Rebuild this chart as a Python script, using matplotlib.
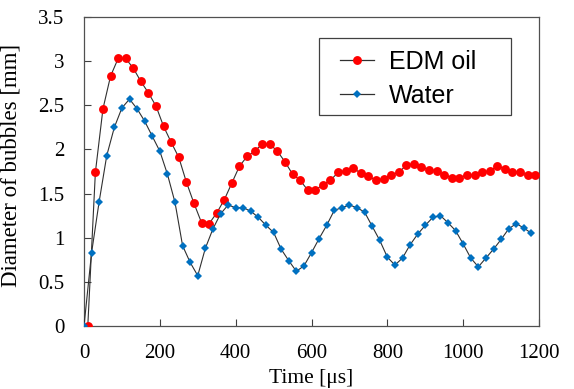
import matplotlib
matplotlib.use("Agg")
import matplotlib.pyplot as plt
from matplotlib.patches import Rectangle

# EDM oil (red circles), time in microseconds
oil_t = list(range(10, 1200, 20))
oil_d = [0.00, 1.74, 2.46, 2.83, 3.03, 3.03, 2.92, 2.77, 2.64, 2.49,
         2.26, 2.08, 1.91, 1.63, 1.39, 1.17, 1.16, 1.28, 1.43, 1.62,
         1.81, 1.92, 1.98, 2.06, 2.06, 1.98, 1.86, 1.72, 1.65, 1.54,
         1.54, 1.60, 1.65, 1.74, 1.76, 1.79, 1.73, 1.70, 1.65, 1.67,
         1.71, 1.74, 1.82, 1.84, 1.80, 1.77, 1.76, 1.71, 1.68, 1.68,
         1.71, 1.71, 1.74, 1.76, 1.81, 1.78, 1.75, 1.74, 1.71, 1.71]

# Water (blue diamonds)
water_t = list(range(0, 1200, 20))
water_d = [0.00, 0.83, 1.41, 1.93, 2.25, 2.47, 2.57, 2.46, 2.32, 2.15,
           1.98, 1.72, 1.40, 0.91, 0.72, 0.57, 0.88, 1.10, 1.27, 1.37,
           1.34, 1.34, 1.30, 1.23, 1.14, 1.06, 0.87, 0.74, 0.62, 0.68,
           0.83, 0.99, 1.14, 1.31, 1.34, 1.37, 1.34, 1.29, 1.13, 0.97,
           0.78, 0.69, 0.77, 0.92, 1.04, 1.14, 1.23, 1.25, 1.17, 1.08,
           0.93, 0.77, 0.67, 0.77, 0.87, 0.98, 1.10, 1.16, 1.11, 1.05]

x_ticks = [0, 200, 400, 600, 800, 1000, 1200]
y_ticks = [0, 0.5, 1, 1.5, 2, 2.5, 3, 3.5]
y_tick_labels = ["0", "0.5", "1", "1.5", "2", "2.5", "3", "3.5"]

W, H = 574, 389
fig = plt.figure(figsize=(W / 100, H / 100), dpi=100)
ax = fig.add_axes([84 / W, 1 - 326 / H, (539 - 84) / W, (326 - 17) / H])

serif = ["Liberation Serif", "DejaVu Serif"]
line_col = "#303030"

ax.plot(oil_t, oil_d, color=line_col, lw=0.8, marker="o", ms=6.4,
        mfc="#FF0000", mec="#FF0000", mew=0, label="EDM oil", zorder=3)
ax.plot(water_t, water_d, color=line_col, lw=0.8, marker="D", ms=4.4,
        mfc="#0070C0", mec="#0070C0", mew=0, label="Water", zorder=4)

ax.set_xlim(0, 1200)
ax.set_ylim(0, 3.5)
ax.set_xticks(x_ticks)
ax.set_yticks(y_ticks)
ax.set_yticklabels(y_tick_labels)
ax.tick_params(direction="in", length=5, width=0.8, color="#404040",
               labelsize=15)
ax.tick_params(axis="x", pad=13)
ax.tick_params(axis="y", pad=14)
for lab in ax.get_xticklabels() + ax.get_yticklabels():
    lab.set_family(serif)

for s in ax.spines.values():
    s.set_color("#505050")
    s.set_linewidth(0.9)

ax.set_xlabel("Time [μs]", family=serif, fontsize=15.5, labelpad=4)
ax.set_ylabel("Diameter of bubbles [mm]", family=serif, fontsize=16.5)
ax.yaxis.set_label_coords((22 - 84) / 455, 0.52)

leg = ax.legend(loc="upper left", bbox_to_anchor=(340 / W, 1 - 50 / H),
                bbox_transform=fig.transFigure, borderaxespad=0, borderpad=0,
                prop={"family": ["Liberation Sans", "DejaVu Sans"], "size": 18},
                frameon=False, handlelength=1.36, handletextpad=0.6,
                labelspacing=0.4)
for ln in leg.get_lines():
    ln.set_linewidth(0.9)

fig.add_artist(Rectangle((319 / W, 1 - 115 / H), (511 - 319) / W, (115 - 38) / H,
                         transform=fig.transFigure, fill=False,
                         edgecolor="#404040", linewidth=0.9))

fig.savefig("out.png", dpi=100)
